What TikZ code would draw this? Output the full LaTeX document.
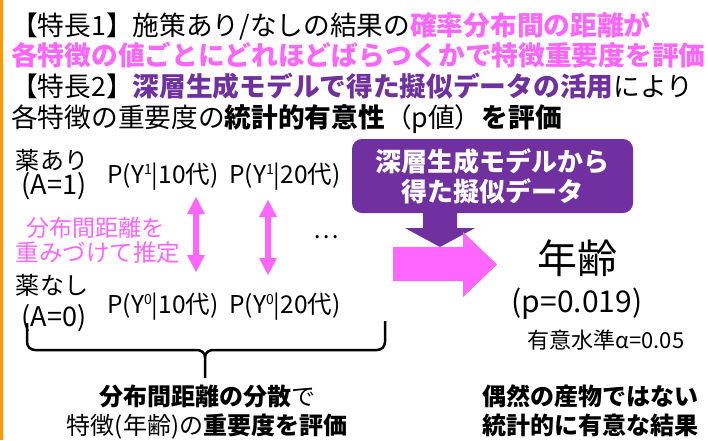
\documentclass[tikz,border=0pt]{standalone}
\usepackage{fontspec}
\setmainfont{Noto Sans CJK JP}
\definecolor{pk}{HTML}{FF66FF}
\definecolor{pu}{HTML}{7030A0}
\definecolor{og}{HTML}{FF9900}
\newcommand\fsz[1]{\fontsize{#1pt}{#1pt}\selectfont}
\newcommand\supr[1]{\raisebox{0.36em}{\fsz{14}#1}}
\tikzset{
  tl/.style={anchor=base west, inner sep=0pt, font=\fsz{26.7}},
  lbl/.style={anchor=base, inner sep=0pt, font=\fsz{24}},
  dbl/.pic={\fill[pk] (0,0) -- (9,17) -- (3,17) -- (3,58) -- (9,58) -- (0,75) -- (-9,58) -- (-3,58) -- (-3,17) -- (-9,17) -- cycle;},
  bracepen/.style={line width=2.5pt, black, line join=round},
}
\begin{document}
\begin{tikzpicture}[x=1pt,y=-1pt]
\useasboundingbox (0,0) rectangle (708,440);
\fill[white] (0,0) rectangle (708,440);
\fill[og] (0,0) rectangle (2.5,440);
% title lines
\node[tl] (l1) at (11,35) {【特長1】施策あり/なしの結果の\textcolor{pk}{\bfseries 確率分布間の距離が}};
\node[tl, text=pk, font=\fsz{26.7}\bfseries] (l2) at (11,65) {各特徴の値ごとにどれほどばらつくかで特徴重要度を評価};
\node[tl] (l3) at (11,96) {【特長2】\textcolor{pu}{\bfseries 深層生成モデルで得た擬似データの活用}により};
\node[tl] (l4) at (11,127) {各特徴の重要度の{\bfseries 統計的有意性}（p値）{\bfseries を評価}};
% left column
\node[lbl] (ya) at (52,169) {薬あり};
\node[lbl, font=\fsz{27}] (a1) at (54,194) {(A=1)};
\node[lbl] (yn) at (52,294) {薬なし};
\node[lbl, font=\fsz{27}] (a0) at (54,326) {(A=0)};
% probabilities
\node[lbl, font=\fsz{24.5}] (p11) at (163,183) {P(Y\supr{1}|10代)};
\node[lbl, font=\fsz{24.5}] (p12) at (285,183) {P(Y\supr{1}|20代)};
\node[lbl, font=\fsz{24.5}] (p01) at (163,313) {P(Y\supr{0}|10代)};
\node[lbl, font=\fsz{24.5}] (p02) at (285,313) {P(Y\supr{0}|20代)};
\node[lbl, font=\fsz{24}] (dots) at (326,238) {…};
% pink double arrows
\pic (da1) at (196,197) {dbl};
\pic (da2) at (268,200) {dbl};
\node[lbl, text=pk, font=\fsz{23}] (w1) at (95,236) {分布間距離を};
\node[lbl, text=pk, font=\fsz{23.5}] (w2) at (98,261) {重みづけて推定};
% brace
\draw[bracepen] (27,323) -- (27,342) to[out=-90,in=180] (35,350) -- (197,350) to[out=0,in=90] (205,357) -- (205,378);
\draw[bracepen] (385,321) -- (385,342) to[out=-90,in=0] (377,350) -- (213,350) to[out=180,in=90] (205,357);
\node[lbl] (b1) at (207,405) {\bfseries 分布間距離の分散\mdseries で};
\node[lbl] (b2) at (207,434) {特徴(年齢)の\bfseries 重要度を評価};
% purple box and arrow
\fill[pu] (423,205) -- (457,205) -- (457,228) -- (475,228) -- (440,247) -- (405,228) -- (423,228) -- cycle;
\node[fill=pu, rounded corners=10pt, minimum width=281pt, minimum height=74pt, inner sep=0pt,
      text=white, align=center, font=\fsz{26}\bfseries, execute at begin node={\baselineskip=30pt}] (box) at (492.5,176) {深層生成モデルから\\得た擬似データ};
% pink big arrow
\fill[pk] (393,247) -- (463,247) -- (463,232) -- (497,264.5) -- (463,297) -- (463,281) -- (393,281) -- cycle;
% result
\node[lbl, font=\fsz{40}] (age) at (577,273) {年齢};
\node[lbl, font=\fsz{30}] (pv) at (577,312) {(p=0.019)};
\node[lbl, font=\fsz{22}] (al) at (606,348) {有意水準α=0.05};
\node[lbl, font=\fsz{24}\bfseries] (r1) at (590,405) {偶然の産物ではない};
\node[lbl, font=\fsz{24}\bfseries] (r2) at (590,434) {統計的に有意な結果};
\end{tikzpicture}
\end{document}
